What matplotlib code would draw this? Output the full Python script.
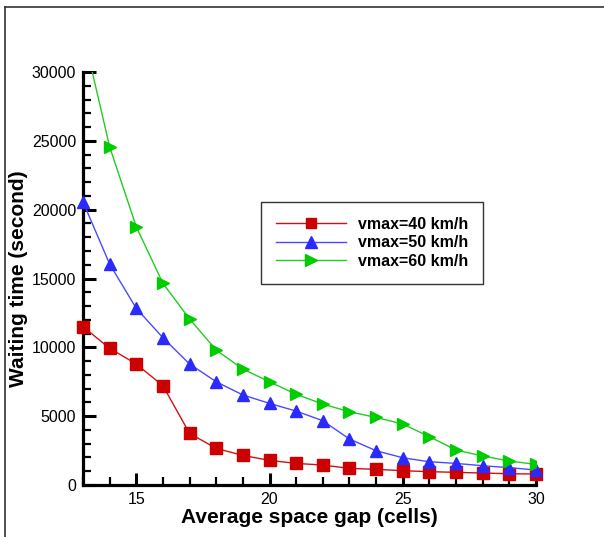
import numpy as np
import matplotlib
matplotlib.use("Agg")
import matplotlib.pyplot as plt
from matplotlib.lines import Line2D
from matplotlib.ticker import MultipleLocator

# average space gap (cells)
gap = [13, 14, 15, 16, 17, 18, 19, 20, 21, 22, 23, 24, 25, 26, 27, 28, 29, 30]

# waiting time (s)
wait_40 = [11500, 9930, 8790, 7210, 3750, 2660, 2150, 1790, 1570, 1450,
           1210, 1140, 1040, 970, 920, 870, 820, 800]
wait_50 = [20570, 16050, 12830, 10700, 8790, 7500, 6540, 5930, 5370, 4670,
           3340, 2490, 1980, 1690, 1570, 1400, 1260, 1090]
wait_60 = [32900, 24570, 18760, 14650, 12060, 9800, 8420, 7500, 6590, 5880,
           5320, 4910, 4430, 3510, 2540, 2110, 1740, 1500]

labels = ["vmax=40 km/h", "vmax=50 km/h", "vmax=60 km/h"]

plt.rcParams['font.family'] = ['Liberation Sans', 'DejaVu Sans']

fig = plt.figure(figsize=(6.04, 5.37), dpi=100)
ax = fig.add_axes([0.1374, 0.0968, 0.75, 0.7691])

ax.plot(gap, wait_40, color='#d21010', lw=1.0, marker='s', ms=8,
        mfc='#cc0000', mec='#cc0000', label=labels[0], clip_on=False, zorder=3)
ax.plot(gap, wait_50, color='#4a4aff', lw=1.0, marker='^', ms=9,
        mfc='#2a2aff', mec='#2a2aff', label=labels[1], clip_on=False, zorder=3)
ax.plot(gap, wait_60, color='#22cc22', lw=1.0, marker='>', ms=9,
        mfc='#00cc00', mec='#00cc00', label=labels[2], zorder=3)

ax.set_xlim(13, 30)
ax.set_ylim(0, 30000)
ax.xaxis.set_major_locator(MultipleLocator(5))
ax.xaxis.set_minor_locator(MultipleLocator(1))
ax.yaxis.set_major_locator(MultipleLocator(5000))
ax.yaxis.set_minor_locator(MultipleLocator(1000))

for side in ['top', 'right']:
    ax.spines[side].set_visible(False)
for side in ['left', 'bottom']:
    ax.spines[side].set_linewidth(2.3)

ax.tick_params(which='major', direction='in', length=9, width=2.2,
               labelsize=11.5, pad=5)
ax.tick_params(which='minor', direction='in', length=5.5, width=1.6)

ax.set_xlabel("Average space gap (cells)", fontsize=15, fontweight='bold',
              labelpad=1)
ax.set_ylabel("Waiting time (second)", fontsize=15, fontweight='bold',
              labelpad=3)

leg = ax.legend(loc='upper left', bbox_to_anchor=(0.392, 0.686),
                frameon=True, fancybox=False, edgecolor='black',
                prop={'weight': 'bold', 'size': 11.5}, handlelength=4.4,
                handletextpad=0.75, labelspacing=0.22, borderpad=0.95,
                borderaxespad=0, markerscale=0.95)
leg.get_frame().set_linewidth(1.0)

# outer frame of the picture (top and left only)
fig.add_artist(Line2D([5 / 604, 5 / 604], [0, 1 - 7 / 537],
                      transform=fig.transFigure, color='#333333', lw=1.2))
fig.add_artist(Line2D([5 / 604, 1], [1 - 7 / 537, 1 - 7 / 537],
                      transform=fig.transFigure, color='#333333', lw=1.2))

fig.savefig("out.png", dpi=100)
